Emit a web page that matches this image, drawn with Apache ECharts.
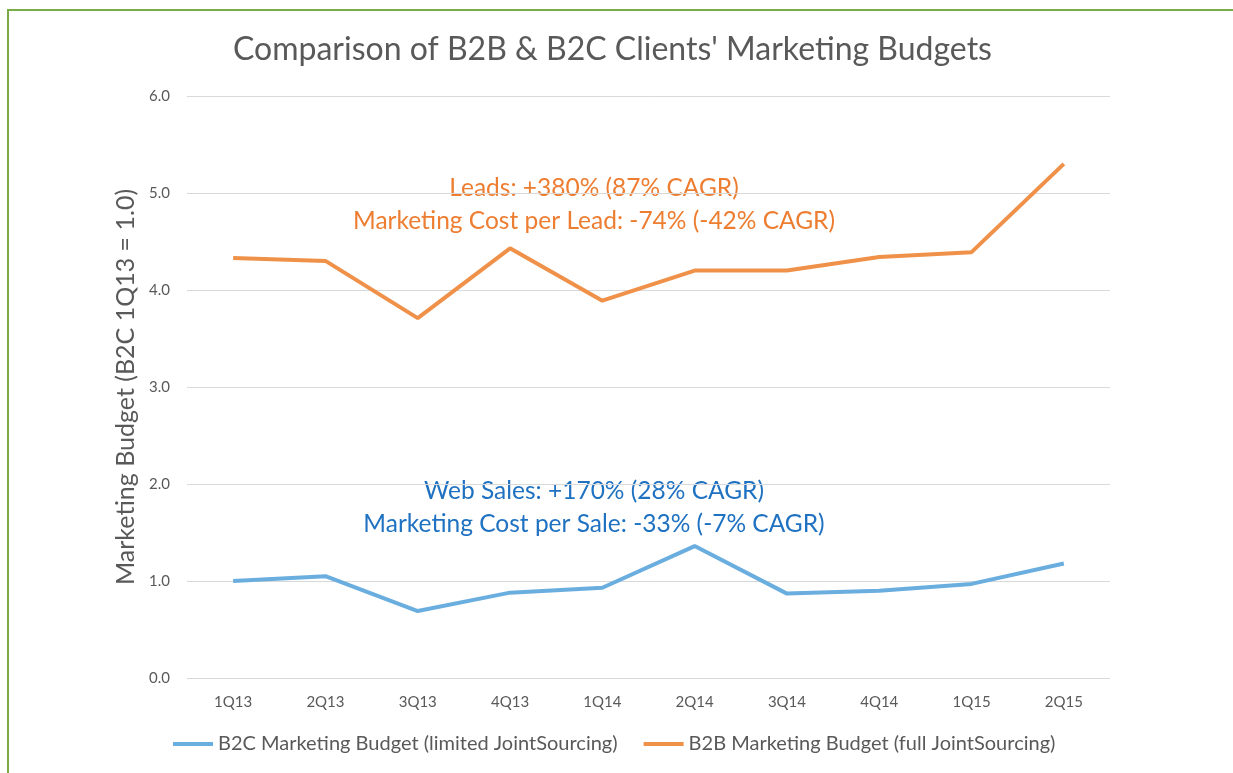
<!DOCTYPE html>
<html>
<head>
<meta charset="utf-8">
<script src="https://cdn.jsdelivr.net/npm/echarts@6/dist/echarts.min.js"></script>
<style>
  html, body { margin: 0; padding: 0; background: #fff; }
  #main { width: 1233px; height: 773px; }
</style>
</head>
<body>
<div id="main"></div>
<script>
// data
var quarters = ['1Q13', '2Q13', '3Q13', '4Q13', '1Q14', '2Q14', '3Q14', '4Q14', '1Q15', '2Q15'];
var b2cBudget = [1.00, 1.05, 0.69, 0.88, 0.93, 1.36, 0.87, 0.90, 0.97, 1.18];
var b2bBudget = [4.33, 4.30, 3.71, 4.43, 3.89, 4.20, 4.20, 4.34, 4.39, 5.30];
var b2cName = 'B2C Marketing Budget (limited JointSourcing)';
var b2bName = 'B2B Marketing Budget (full JointSourcing)';

var myChart = echarts.init(document.getElementById('main'));
var font = 'Lato, "Open Sans", sans-serif';

var option = {
    backgroundColor: '#fff',
    textStyle: { fontFamily: font },
    title: {
        text: "Comparison of B2B & B2C Clients' Marketing Budgets",
        left: 228,
        top: 29,
        textStyle: { fontFamily: font, fontWeight: 'normal', fontSize: 32, color: '#595959' }
    },
    legend: {
        bottom: 14,
        left: 168,
        itemWidth: 40,
        itemHeight: 4,
        itemGap: 26,
        icon: 'rect',
        textStyle: { fontFamily: font, fontSize: 20, color: '#595959' },
        data: [b2cName, b2bName]
    },
    grid: { left: 187, right: 123, top: 96, bottom: 95 },
    xAxis: {
        type: 'category',
        data: quarters,
        boundaryGap: true,
        axisLine: { show: false },
        axisTick: { show: false },
        axisLabel: { fontFamily: font, fontSize: 15, color: '#595959', margin: 17 }
    },
    yAxis: {
        type: 'value',
        min: 0, max: 6, interval: 1,
        name: 'Marketing Budget (B2C 1Q13 = 1.0)',
        nameLocation: 'middle',
        nameGap: 47,
        nameTextStyle: { fontFamily: font, fontSize: 25, color: '#595959' },
        axisLabel: {
            fontFamily: font, fontSize: 15, color: '#595959', margin: 17,
            formatter: function (v) { return v.toFixed(1); }
        },
        splitLine: { lineStyle: { color: '#d9d9d9', width: 1 } }
    },
    series: [{
        name: b2cName,
        type: 'line',
        data: b2cBudget,
        symbol: 'none',
        color: '#6aaedf',
        lineStyle: { width: 4, color: '#6aaedf' }
    }, {
        name: b2bName,
        type: 'line',
        data: b2bBudget,
        symbol: 'none',
        color: '#f0914a',
        lineStyle: { width: 4, color: '#f0914a' }
    }],
    graphic: [{
        type: 'rect',
        shape: { x: 8, y: 10, width: 1300, height: 800 },
        style: { fill: 'none', stroke: '#7aac45', lineWidth: 2 },
        silent: true
    }, {
        type: 'text',
        x: 594, y: 172,
        style: {
            text: 'Leads: +380% (87% CAGR)\nMarketing Cost per Lead: -74% (-42% CAGR)',
            align: 'center',
            fill: '#ed7d31',
            font: '24.5px ' + font,
            lineHeight: 33
        }
    }, {
        type: 'text',
        x: 594, y: 475,
        style: {
            text: 'Web Sales: +170% (28% CAGR)\nMarketing Cost per Sale: -33% (-7% CAGR)',
            align: 'center',
            fill: '#1f71c1',
            font: '24.5px ' + font,
            lineHeight: 33
        }
    }]
};

myChart.setOption(option);
</script>
</body>
</html>
